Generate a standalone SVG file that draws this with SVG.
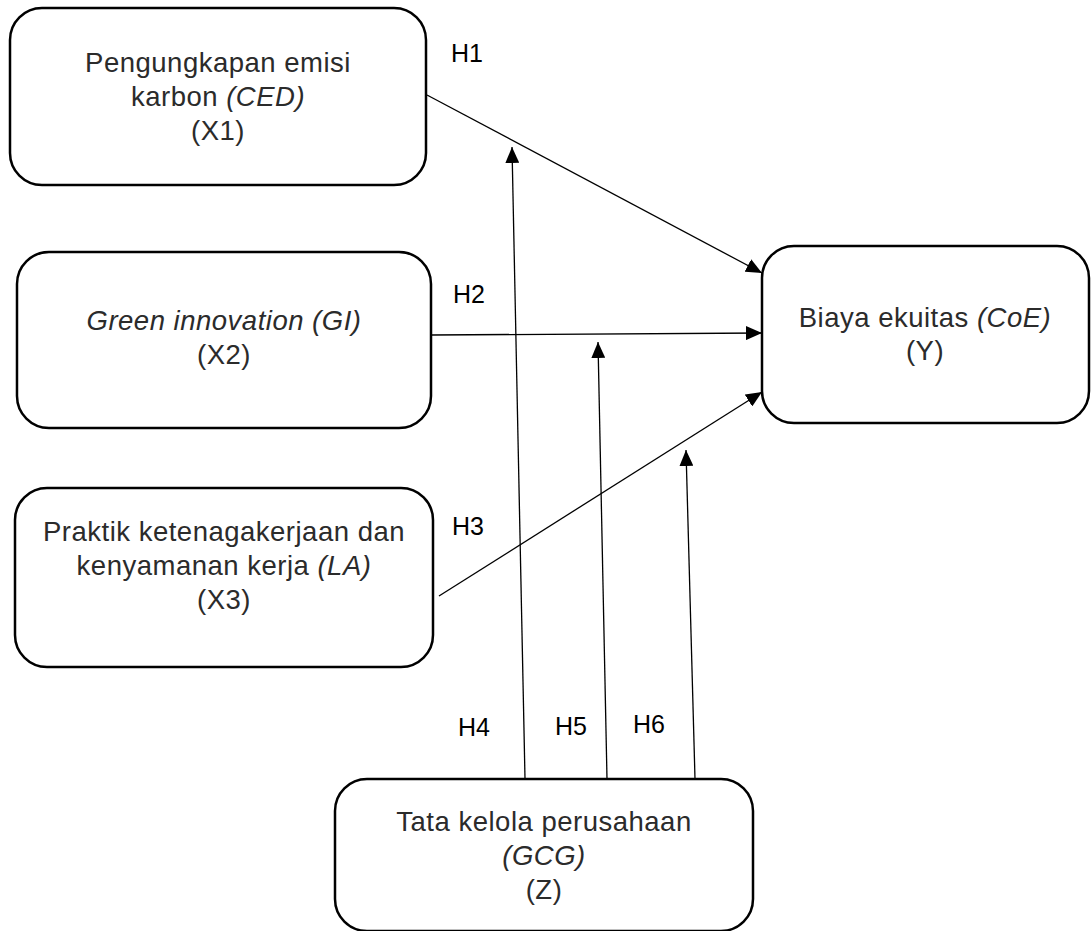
<svg xmlns="http://www.w3.org/2000/svg" width="1091" height="931" viewBox="0 0 1091 931">
<style>
.box{fill:#fff;stroke:#000;stroke-width:2.5}
.t{font-family:"Liberation Sans",Arial,sans-serif;font-size:27.5px;fill:#2b2b2b;text-anchor:middle;letter-spacing:0.5px}
.h{font-family:"Liberation Sans",Arial,sans-serif;font-size:25px;fill:#000}
.i{font-style:italic}
.c{stroke:#000;stroke-width:1.3;fill:none;marker-end:url(#ah)}
</style>
<defs>
<marker id="ah" markerWidth="16" markerHeight="14" refX="16" refY="7" orient="auto" markerUnits="userSpaceOnUse">
<path d="M0,0 L16,7 L0,14 Z" fill="#000"/>
</marker>
</defs>
<rect width="1091" height="931" fill="#fff"/>
<g id="connectors">
<line class="c" x1="427" y1="95" x2="762" y2="273"/>
<line class="c" x1="431" y1="335" x2="762" y2="333"/>
<line class="c" x1="439" y1="596" x2="762" y2="392"/>
<line class="c" x1="525" y1="779" x2="512" y2="147"/>
<line class="c" x1="607" y1="779" x2="598" y2="342"/>
<line class="c" x1="695" y1="779" x2="686" y2="450"/>
</g>
<g id="labels">
<text class="h" x="451" y="62">H1</text>
<text class="h" x="453" y="303">H2</text>
<text class="h" x="452" y="535">H3</text>
<text class="h" x="458" y="736">H4</text>
<text class="h" x="555" y="735">H5</text>
<text class="h" x="633" y="733">H6</text>
</g>
<g id="X1">
<rect class="box" x="10" y="8" width="416" height="177" rx="32"/>
<text class="t" x="218" y="72">Pengungkapan emisi</text>
<text class="t" x="218" y="106">karbon <tspan class="i">(CED)</tspan></text>
<text class="t" x="218" y="140">(X1)</text>
</g>
<g id="X2">
<rect class="box" x="17" y="252" width="414" height="176" rx="32"/>
<text class="t i" x="224" y="330">Green innovation (GI)</text>
<text class="t" x="224" y="364">(X2)</text>
</g>
<g id="X3">
<rect class="box" x="15" y="488" width="418" height="179" rx="32"/>
<text class="t" x="224" y="541">Praktik ketenagakerjaan dan</text>
<text class="t" x="224" y="575">kenyamanan kerja <tspan class="i">(LA)</tspan></text>
<text class="t" x="224" y="609">(X3)</text>
</g>
<g id="Y">
<rect class="box" x="762" y="246" width="327" height="177" rx="32"/>
<text class="t" x="925" y="327">Biaya ekuitas <tspan class="i">(CoE)</tspan></text>
<text class="t" x="925" y="360">(Y)</text>
</g>
<g id="Z">
<rect class="box" x="335" y="779" width="418" height="152" rx="32"/>
<text class="t" x="544" y="831">Tata kelola perusahaan</text>
<text class="t i" x="544" y="865">(GCG)</text>
<text class="t" x="544" y="899">(Z)</text>
</g>
</svg>
